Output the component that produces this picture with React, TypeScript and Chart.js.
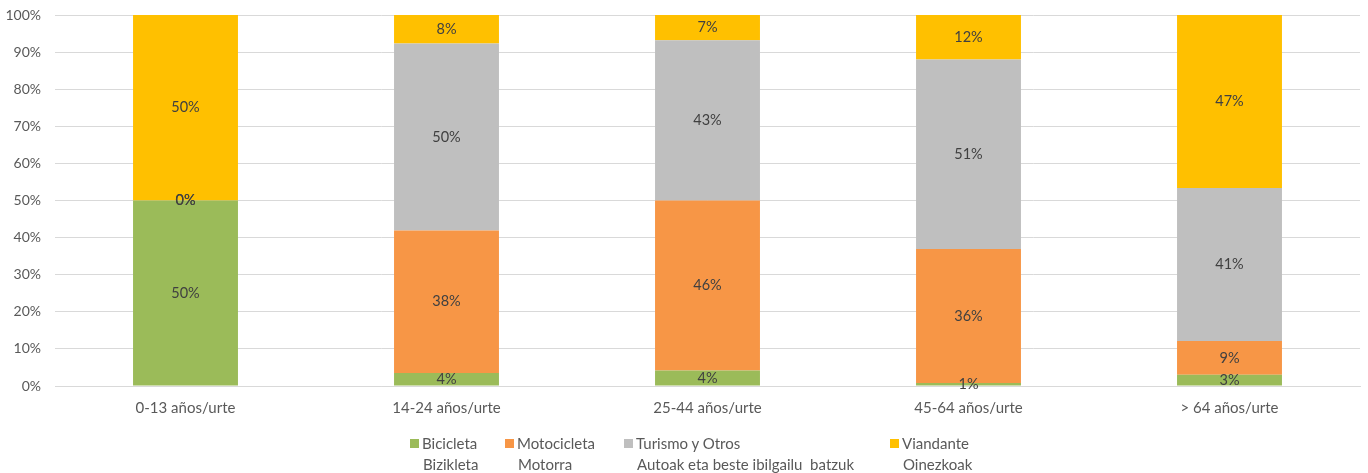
import React, { useEffect, useRef } from "react";
import { Chart, registerables } from "chart.js";

Chart.register(...registerables);

const categories = ["0-13 años/urte", "14-24 años/urte", "25-44 años/urte", "45-64 años/urte", "> 64 años/urte"];
const bicicleta = [50, 3.5, 4.2, 0.8, 3.0];
const motocicleta = [0, 38.4, 45.8, 36.1, 9.1];
const turismo = [0, 50.4, 43.2, 51.1, 41.3];
const viandante = [50, 7.7, 6.8, 12.0, 46.6];
const yTicks = [0, 10, 20, 30, 40, 50, 60, 70, 80, 90, 100];

const seriesNames = ["Bicicleta", "Motocicleta", "Turismo y Otros", "Viandante"];
const seriesSub = ["Bizikleta", "Motorra", "Autoak eta beste ibilgailu  batzuk", "Oinezkoak"];
const colors = ["#9BBB59", "#F79646", "#BFBFBF", "#FFC000"];
const legendX = [410, 505, 624, 890];

const FONT = "Lato, 'Noto Sans', sans-serif";

const labelPlugin = {
  id: "segLabels",
  afterDatasetsDraw(chart: any) {
    const ctx = chart.ctx;
    ctx.save();
    ctx.font = `14.5px ${FONT}`;
    ctx.fillStyle = "#404040";
    ctx.textAlign = "center";
    ctx.textBaseline = "middle";
    chart.data.datasets.forEach((ds: any, i: number) => {
      const meta = chart.getDatasetMeta(i);
      meta.data.forEach((bar: any, j: number) => {
        const v = ds.data[j];
        const y = (bar.y + bar.base) / 2;
        ctx.fillText(Math.round(v) + "%", bar.x, y);
      });
    });
    ctx.restore();
  },
};

export default function App() {
  const ref = useRef<HTMLCanvasElement | null>(null);
  useEffect(() => {
    if (!ref.current) return;
    const data = [bicicleta, motocicleta, turismo, viandante];
    const chart = new Chart(ref.current, {
      type: "bar",
      data: {
        labels: categories,
        datasets: seriesNames.map((n, i) => ({
          label: n,
          data: data[i],
          backgroundColor: colors[i],
          borderWidth: 0,
          barPercentage: 0.402,
          categoryPercentage: 1,
        })),
      },
      options: {
        animation: false,
        responsive: false,
        maintainAspectRatio: false,
        layout: { padding: { left: 0, right: 8, top: 15, bottom: 0 } },
        plugins: { legend: { display: false }, tooltip: { enabled: false } },
        scales: {
          x: {
            stacked: true,
            grid: { display: false, drawTicks: false },
            border: { display: true, color: "#D9D9D9" },
            ticks: { color: "#595959", font: { size: 15, family: FONT }, padding: 13, maxRotation: 0 },
            afterFit: (s: any) => { s.height = 87; s.paddingLeft = 0; s.paddingRight = 0; },
          },
          y: {
            stacked: true,
            min: 0,
            max: 100,
            afterBuildTicks: (s: any) => { s.ticks = yTicks.map((v) => ({ value: v })); },
            grid: { color: "#D9D9D9", drawTicks: false },
            border: { display: false },
            ticks: { color: "#595959", font: { size: 14, family: FONT }, padding: 14, callback: (v: any) => v + "%" },
            afterFit: (s: any) => { s.width = 55; s.paddingTop = 0; s.paddingBottom = 0; },
          },
        },
      },
      plugins: [labelPlugin],
    });
    return () => chart.destroy();
  }, []);

  return (
    <div style={{ position: "absolute", left: 0, top: 0, width: 1368, height: 473, background: "#fff" }}>
      <canvas ref={ref} width={1368} height={473} style={{ position: "absolute", left: 0, top: 0 }} />
      {seriesNames.map((n, i) => (
        <div key={n} style={{ position: "absolute", left: legendX[i], top: 433, fontFamily: FONT, fontSize: 15, color: "#595959", lineHeight: "21px", whiteSpace: "pre" }}>
          <span style={{ position: "absolute", left: 0, top: 6, width: 9, height: 9, background: colors[i] }} />
          <div style={{ paddingLeft: 12 }}>{n}</div>
          <div style={{ paddingLeft: 13 }}>{seriesSub[i]}</div>
        </div>
      ))}
    </div>
  );
}
